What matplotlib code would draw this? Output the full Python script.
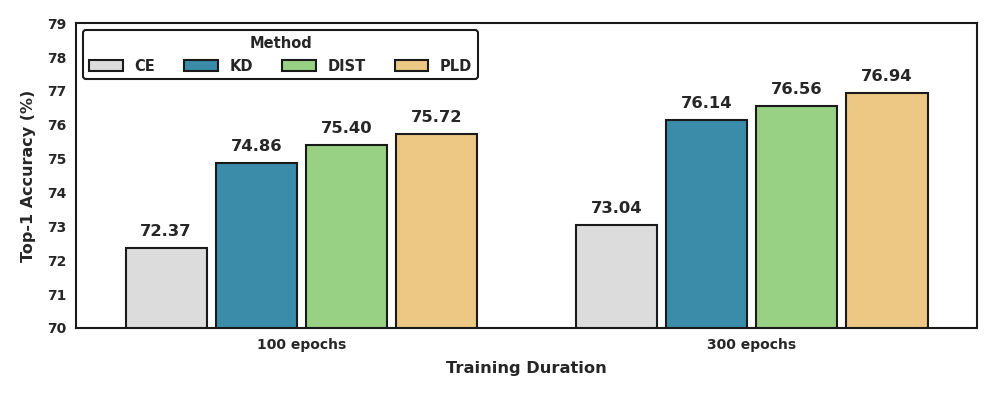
import matplotlib
matplotlib.use("Agg")
import matplotlib.pyplot as plt
import numpy as np
import seaborn as sns

sns.set_style("white")
plt.rcParams['font.family'] = ['DejaVu Sans']

groups = ["100 epochs", "300 epochs"]
methods = ["CE", "KD", "DIST", "PLD"]
values = {
    "CE": [72.37, 73.04],
    "KD": [74.86, 76.14],
    "DIST": [75.40, 76.56],
    "PLD": [75.72, 76.94],
}
colors = ["#dddcdd", "#3a8ca9", "#98d084", "#edc784"]
yticks = [70, 71, 72, 73, 74, 75, 76, 77, 78, 79]

tc = "#262626"
fig = plt.figure(figsize=(9.97, 3.99), dpi=100)
ax = fig.add_axes([0.0762, 0.178, 0.9038, 0.764])

x = np.arange(len(groups))
w = 0.18
offsets = [-0.3, -0.1, 0.1, 0.3]
for m, c, o in zip(methods, colors, offsets):
    bars = ax.bar(x + o, values[m], w, color=c, edgecolor="#1a1a1a", linewidth=1.5, label=m)
    for b, v in zip(bars, values[m]):
        ax.text(b.get_x() + b.get_width() / 2, v + 0.27, f"{v:.2f}", ha="center", va="bottom",
                fontsize=11.8, fontweight="bold", color=tc)

ax.set_xlim(-0.5, 1.5)
ax.set_ylim(70, 79)
ax.set_yticks(yticks)
ax.set_xticks(x)
ax.set_xticklabels(groups, fontsize=10, fontweight="bold", color=tc)
for lab in ax.get_yticklabels():
    lab.set_fontweight("bold")
    lab.set_fontsize(10)
    lab.set_color(tc)
ax.set_xlabel("Training Duration", fontsize=11.7, fontweight="bold", color=tc, labelpad=7)
ax.set_ylabel("Top-1 Accuracy (%)", fontsize=11.5, fontweight="bold", color=tc, labelpad=8)
for s in ax.spines.values():
    s.set_color("#1a1a1a")
    s.set_linewidth(1.5)

leg = ax.legend(title="Method", ncol=4, loc="upper left", frameon=True,
                prop={"weight": "bold", "size": 10.5}, title_fontproperties={"weight": "bold", "size": 10.5},
                edgecolor="#1a1a1a", fancybox=True, borderaxespad=0.5, columnspacing=2.0,
                handlelength=2.3, handletextpad=0.8)
leg.get_frame().set_linewidth(1.5)
leg.get_frame().set_alpha(1)
for t in leg.get_texts():
    t.set_color(tc)
leg.get_title().set_color(tc)

fig.savefig("out.png", dpi=100)
